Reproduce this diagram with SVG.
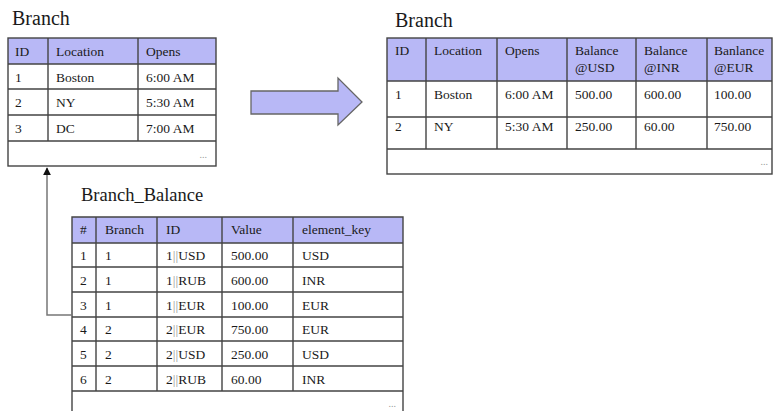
<svg xmlns="http://www.w3.org/2000/svg" width="774" height="411" viewBox="0 0 774 411">
<defs>
<style>
text{font-family:"Liberation Serif","Times New Roman",serif;fill:#1a1a1a}
.t{font-size:20px}
.c{font-size:13.5px}
.d{font-size:10px;fill:#999}
.hd{fill:#b8b8f6}
.ln{stroke:#444;stroke-width:1.4;fill:none}
.g{fill:#999}
</style>
<marker id="ah" viewBox="0 0 10 10" refX="9" refY="5" markerWidth="8" markerHeight="8" markerUnits="userSpaceOnUse" orient="auto">
<path d="M0,0 L10,5 L0,10 z" fill="#111"/>
</marker>
</defs>
<rect width="774" height="411" fill="#fff"/>

<g id="branch-src">
<text class="t" x="12" y="25">Branch</text>
<rect class="hd" x="8" y="38" width="208" height="26"/>
<rect class="ln" x="8" y="38" width="208" height="128"/>
<path class="ln" d="M8,64H216M8,89H216M8,115H216M8,141H216M48,38V141M138,38V141"/>
<text class="c" x="15" y="56">ID</text><text class="c" x="56" y="56">Location</text><text class="c" x="146" y="56">Opens</text>
<text class="c" x="15" y="82">1</text><text class="c" x="56" y="82">Boston</text><text class="c" x="146" y="82">6:00 AM</text>
<text class="c" x="15" y="107">2</text><text class="c" x="56" y="107">NY</text><text class="c" x="146" y="107">5:30 AM</text>
<text class="c" x="15" y="133">3</text><text class="c" x="56" y="133">DC</text><text class="c" x="146" y="133">7:00 AM</text>
<text class="d" x="207" y="158" text-anchor="end">...</text>
</g>

<g id="branch-result">
<text class="t" x="395" y="27">Branch</text>
<rect class="hd" x="387" y="38" width="385" height="43"/>
<rect class="ln" x="387" y="38" width="385" height="136"/>
<path class="ln" d="M387,81H772M387,117H772M387,149H772M426,38V149M497,38V149M567,38V149M636,38V149M707,38V149"/>
<text class="c" x="395" y="55">ID</text><text class="c" x="434" y="55">Location</text><text class="c" x="505" y="55">Opens</text>
<text class="c" x="575" y="55">Balance</text><text class="c" x="575" y="72">@USD</text>
<text class="c" x="644" y="55">Balance</text><text class="c" x="644" y="72">@INR</text>
<text class="c" x="714" y="55">Banlance</text><text class="c" x="714" y="72">@EUR</text>
<text class="c" x="395" y="99">1</text><text class="c" x="434" y="99">Boston</text><text class="c" x="505" y="99">6:00 AM</text><text class="c" x="575" y="99">500.00</text><text class="c" x="644" y="99">600.00</text><text class="c" x="714" y="99">100.00</text>
<text class="c" x="395" y="131">2</text><text class="c" x="434" y="131">NY</text><text class="c" x="505" y="131">5:30 AM</text><text class="c" x="575" y="131">250.00</text><text class="c" x="644" y="131">60.00</text><text class="c" x="714" y="131">750.00</text>
<text class="d" x="768" y="165" text-anchor="end">...</text>
</g>

<g id="branch-balance">
<text x="81" y="201" style="font-size:18.5px">Branch_Balance</text>
<rect class="hd" x="72" y="217" width="331" height="26"/>
<path class="ln" d="M72,420V217H403V420"/>
<path class="ln" d="M72,243H403M72,267H403M72,292H403M72,317H403M72,341H403M72,366H403M72,391H403M96,217V391M157,217V391M222,217V391M293,217V391"/>
<text class="c" x="80" y="234">#</text><text class="c" x="105" y="234">Branch</text><text class="c" x="166" y="234">ID</text><text class="c" x="231" y="234">Value</text><text class="c" x="302" y="234">element_key</text>
<text class="c" x="80" y="260">1</text><text class="c" x="105" y="260">1</text><text class="c" x="166" y="260">1<tspan class="g">||</tspan>USD</text><text class="c" x="231" y="260">500.00</text><text class="c" x="302" y="260">USD</text>
<text class="c" x="80" y="285">2</text><text class="c" x="105" y="285">1</text><text class="c" x="166" y="285">1<tspan class="g">||</tspan>RUB</text><text class="c" x="231" y="285">600.00</text><text class="c" x="302" y="285">INR</text>
<text class="c" x="80" y="310">3</text><text class="c" x="105" y="310">1</text><text class="c" x="166" y="310">1<tspan class="g">||</tspan>EUR</text><text class="c" x="231" y="310">100.00</text><text class="c" x="302" y="310">EUR</text>
<text class="c" x="80" y="334">4</text><text class="c" x="105" y="334">2</text><text class="c" x="166" y="334">2<tspan class="g">||</tspan>EUR</text><text class="c" x="231" y="334">750.00</text><text class="c" x="302" y="334">EUR</text>
<text class="c" x="80" y="359">5</text><text class="c" x="105" y="359">2</text><text class="c" x="166" y="359">2<tspan class="g">||</tspan>USD</text><text class="c" x="231" y="359">250.00</text><text class="c" x="302" y="359">USD</text>
<text class="c" x="80" y="384">6</text><text class="c" x="105" y="384">2</text><text class="c" x="166" y="384">2<tspan class="g">||</tspan>RUB</text><text class="c" x="231" y="384">60.00</text><text class="c" x="302" y="384">INR</text>
<text class="d" x="396" y="407" text-anchor="end">...</text>
</g>

<g id="connectors">
<path d="M72,315H47V168" fill="none" stroke="#777" stroke-width="1.5" marker-end="url(#ah)"/>
<polygon points="251,91 338,91 338,78 362,102 338,125 338,114 251,114" fill="#b8b8f6" stroke="#666" stroke-width="1.3"/>
</g>
</svg>
